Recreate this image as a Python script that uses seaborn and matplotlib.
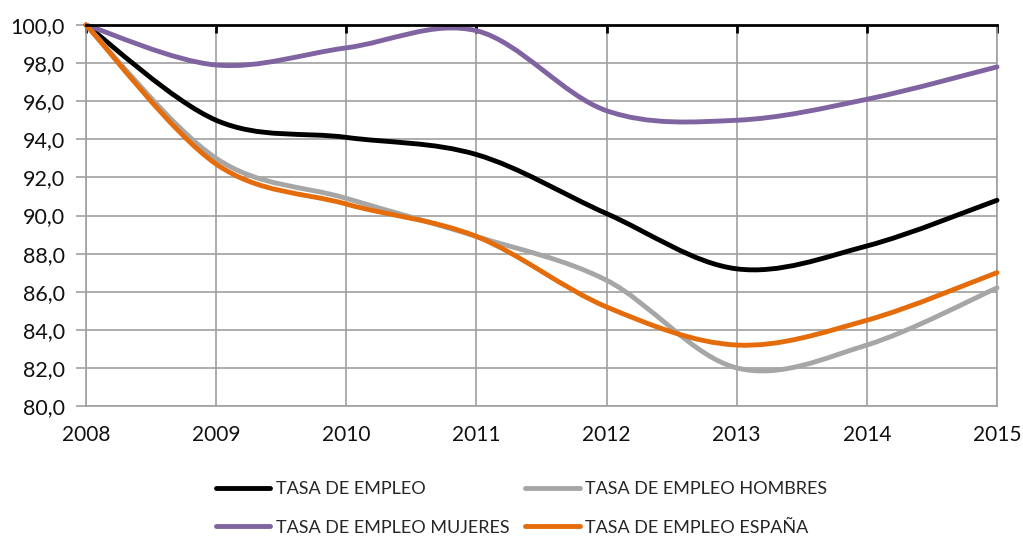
import numpy as np
import pandas as pd
import matplotlib
matplotlib.use("Agg")
import matplotlib.pyplot as plt
from matplotlib.path import Path
from matplotlib.patches import PathPatch
from matplotlib.lines import Line2D
from matplotlib.ticker import FuncFormatter, MultipleLocator
import seaborn as sns

# Data (index 2008 = 100)
years = [2008, 2009, 2010, 2011, 2012, 2013, 2014, 2015]
tasa_empleo = [100.0, 95.0, 94.1, 93.2, 90.1, 87.2, 88.4, 90.8]
tasa_hombres = [100.0, 93.0, 90.9, 88.9, 86.6, 82.0, 83.2, 86.2]
tasa_mujeres = [100.0, 97.9, 98.8, 99.7, 95.5, 95.0, 96.1, 97.8]
tasa_espana = [100.0, 92.7, 90.6, 88.9, 85.2, 83.2, 84.5, 87.0]

series_names = ["TASA DE EMPLEO", "TASA DE EMPLEO HOMBRES",
                "TASA DE EMPLEO MUJERES", "TASA DE EMPLEO ESPAÑA"]
series_values = [tasa_empleo, tasa_hombres, tasa_mujeres, tasa_espana]
colors = ["#000000", "#A6A6A6", "#8064A2", "#E46C0A"]

sns.set_theme(style="white")
plt.rcParams['font.family'] = ['Lato', 'DejaVu Sans']

rows = []
for name, vals in zip(series_names, series_values):
    for y, v in zip(years, vals):
        rows.append({"year": y, "value": v, "serie": name})
df = pd.DataFrame(rows)


def smooth_path(xs, ys):
    """Excel-like smoothed line as cubic Bezier segments through the points."""
    P = np.column_stack([xs, ys]).astype(float)
    n = len(P)
    verts = [P[0]]
    codes = [Path.MOVETO]
    for i in range(n - 1):
        p0 = P[i - 1] if i > 0 else P[i]
        p3 = P[i + 2] if i + 2 < n else P[i + 1]
        c1 = P[i] + (P[i + 1] - p0) / 6.0
        c2 = P[i + 1] - (p3 - P[i]) / 6.0
        verts += [c1, c2, P[i + 1]]
        codes += [Path.CURVE4] * 3
    return Path(verts, codes)


fig = plt.figure(figsize=(10.23, 5.37), dpi=100)
ax = fig.add_axes([86 / 1023, 1 - 406 / 537, (997 - 86) / 1023, (406 - 25) / 537])

sns.lineplot(data=df, x="year", y="value", hue="serie", palette=colors,
             hue_order=series_names, linewidth=3, legend=False, ax=ax)

# replace straight segments by smoothed curves
for line, name, c in zip(list(ax.lines), series_names, colors):
    xs, ys = line.get_xdata(), line.get_ydata()
    line.set_visible(False)
    patch = PathPatch(smooth_path(xs, ys), facecolor="none", edgecolor=c,
                      linewidth=3.5, capstyle="round", joinstyle="round",
                      clip_on=False, zorder=3)
    ax.add_patch(patch)

ax.set_xlim(2008, 2015)
ax.set_ylim(80, 100)
ax.set_xticks(years)
ax.yaxis.set_major_locator(MultipleLocator(2))
ax.yaxis.set_major_formatter(FuncFormatter(lambda v, p: f"{v:.1f}".replace(".", ",")))
ax.set_xlabel("")
ax.set_ylabel("")

ax.grid(True, color="#A0A0A0", linewidth=1.2)
ax.set_axisbelow(True)
for s in ["left", "right", "bottom"]:
    ax.spines[s].set_color("#A0A0A0")
    ax.spines[s].set_linewidth(1.2)
ax.spines["top"].set_color("black")
ax.spines["top"].set_linewidth(2)
ax.spines["top"].set_zorder(5)

ax.tick_params(axis="y", left=True, length=7, width=1.2, color="#A0A0A0",
               pad=8, labelsize=15.5, labelcolor="#111111")
ax.tick_params(axis="x", bottom=False, top=True, direction="in", length=6,
               width=2, color="black", pad=14, labelsize=15, labelcolor="#111111")

# legend filled row by row like the original
order = [0, 2, 1, 3]
handles = [Line2D([0], [0], color=colors[i], linewidth=3.5) for i in order]
labels = [series_names[i] for i in order]
fig.legend(handles, labels, loc="upper left", bbox_to_anchor=(216 / 1023, 1 - 481 / 537),
           ncol=2, frameon=False, fontsize=13, handlelength=3.0, handletextpad=0.3,
           columnspacing=0.9, labelspacing=1.25, borderaxespad=0, borderpad=0)

fig.savefig("out.png", dpi=100)
